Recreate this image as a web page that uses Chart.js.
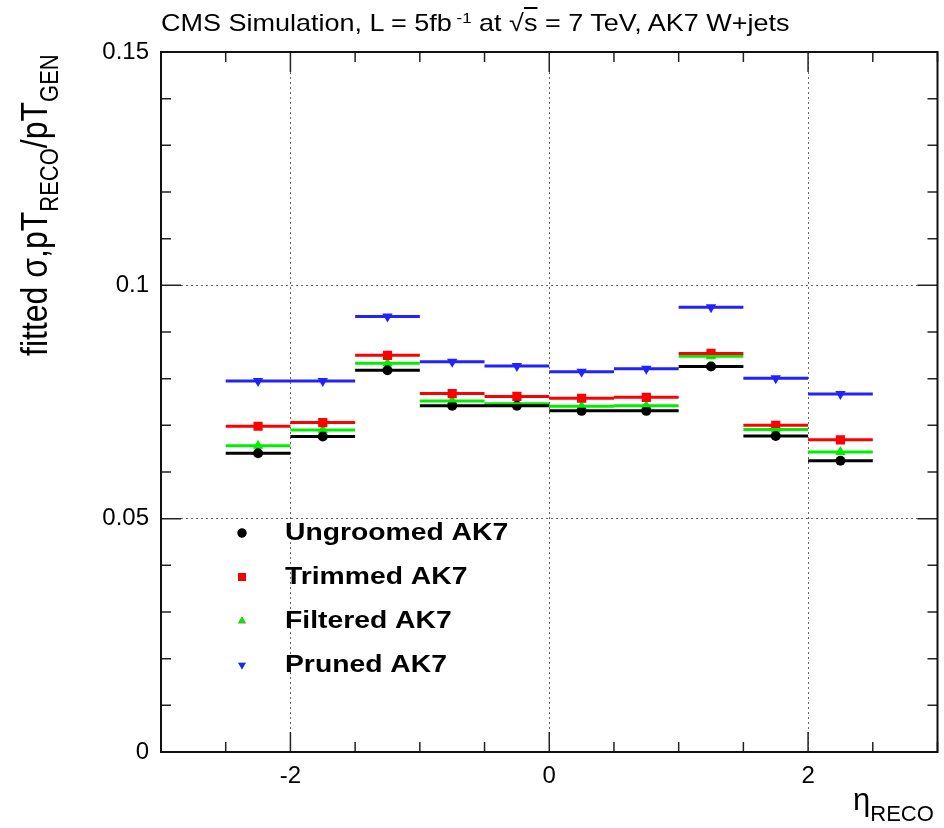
<!DOCTYPE html>
<html>
<head>
<meta charset="utf-8">
<script src="https://cdn.jsdelivr.net/npm/chart.js@4/dist/chart.umd.min.js"></script>
<style>
    body { margin: 0; background: #fff; }
    #wrap { position: relative; width: 944px; height: 828px; font-family: "Liberation Sans", Arial, sans-serif; }
    canvas { position: absolute; left: 0; top: 0; }
    .lbl { position: absolute; white-space: nowrap; color: #000; }
</style>
</head>
<body>
<div id="wrap">
    <canvas id="resChart" width="944" height="828"></canvas>
    <div class="lbl" id="title" style="left:161px; top:9px; font-size:24px; transform-origin:0 0; transform:scaleX(1.125);">
        CMS Simulation, L = 5fb<sup style="vertical-align:8px; font-size:15px; line-height:0;">&nbsp;-1</sup> at <span>&#8730;</span><span style="text-decoration:overline;">s</span> = 7 TeV, AK7 W+jets
    </div>
    <div class="lbl" id="ytitle" style="left:14px; top:356px; font-size:32px; transform-origin:0 0; transform:rotate(-90deg) scaleY(1.15);">
        fitted &sigma;,pT<sub style="font-size:22px; vertical-align:-9px; line-height:0;">RECO</sub>/pT<sub style="font-size:22px; vertical-align:-9px; line-height:0;">GEN</sub>
    </div>
    <div class="lbl" id="xtitle" style="left:853px; top:782px; font-size:31px;">
        &eta;<sub style="font-size:22px; vertical-align:-11px; line-height:0;">RECO</sub>
    </div>
</div>
<script>
// eta bin edges and fitted resolution per bin
const binEdges = [-2.5, -2, -1.5, -1, -0.5, 0, 0.5, 1, 1.5, 2, 2.5];
const ungroomed = [0.0640, 0.0676, 0.0818, 0.0742, 0.0742, 0.0731, 0.0731, 0.0826, 0.0677, 0.0624];
const trimmed   = [0.0698, 0.0706, 0.0850, 0.0768, 0.0762, 0.0758, 0.0760, 0.0854, 0.0700, 0.0669];
const filtered  = [0.0656, 0.0690, 0.0833, 0.0752, 0.0746, 0.0741, 0.0742, 0.0848, 0.0691, 0.0643];
const pruned    = [0.0795, 0.0795, 0.0933, 0.0836, 0.0827, 0.0815, 0.0821, 0.0953, 0.0801, 0.0767];

const xLabels = [-2, 0, 2];
const yLabels = [0, 0.05, 0.1, 0.15];

const series = [
    { label: 'Ungroomed AK7', data: ungroomed, color: '#000000', style: 'circle', radius: 5, rot: 0 },
    { label: 'Trimmed AK7', data: trimmed, color: '#ff0000', style: 'rect', radius: 6.5, rot: 0 },
    { label: 'Filtered AK7', data: filtered, color: '#00ee00', style: 'triangle', radius: 6, rot: 0 },
    { label: 'Pruned AK7', data: pruned, color: '#2222ff', style: 'triangle', radius: 6, rot: 180 }
];

function binSegments(values) {
    const pts = [];
    values.forEach((v, i) => {
        pts.push({ x: binEdges[i], y: v });
        pts.push({ x: binEdges[i + 1], y: v });
        pts.push({ x: binEdges[i + 1], y: null });
    });
    return pts;
}

function binCenters(values) {
    return values.map((v, i) => ({ x: (binEdges[i] + binEdges[i + 1]) / 2, y: v }));
}

const datasets = [];
series.forEach(s => {
    datasets.push({
        label: s.label + ' bins',
        data: binSegments(s.data),
        showLine: true,
        spanGaps: false,
        borderColor: s.color,
        borderWidth: 3,
        pointRadius: 0,
        pointHoverRadius: 0
    });
});
series.forEach(s => {
    datasets.push({
        label: s.label,
        data: binCenters(s.data),
        showLine: false,
        pointStyle: s.style,
        pointRadius: s.radius,
        pointRotation: s.rot,
        backgroundColor: s.color,
        borderColor: s.color,
        borderWidth: 0
    });
});

function isMajorX(v) {
    return xLabels.some(l => Math.abs(l - v) < 1e-6);
}
function isMajorY(v) {
    return yLabels.some(l => Math.abs(l - v) < 1e-6);
}

// ROOT style frame with inward ticks on all four sides
const frameTicks = {
    id: 'frameTicks',
    afterDatasetsDraw(chart) {
        const ctx = chart.ctx;
        const a = chart.chartArea;
        const xs = chart.scales.x;
        const ys = chart.scales.y;
        ctx.save();
        ctx.strokeStyle = '#222';
        ctx.lineWidth = 1.5;
        ctx.beginPath();
        xs.ticks.forEach(t => {
            const px = xs.getPixelForValue(t.value);
            const len = isMajorX(t.value) ? 20 : 10;
            ctx.moveTo(px, a.bottom); ctx.lineTo(px, a.bottom - len);
            ctx.moveTo(px, a.top); ctx.lineTo(px, a.top + len);
        });
        ys.ticks.forEach(t => {
            const py = ys.getPixelForValue(t.value);
            const len = isMajorY(t.value) ? 20 : 10;
            ctx.moveTo(a.left, py); ctx.lineTo(a.left + len, py);
            ctx.moveTo(a.right, py); ctx.lineTo(a.right - len, py);
        });
        ctx.stroke();
        ctx.lineWidth = 2;
        ctx.strokeStyle = '#111';
        ctx.strokeRect(a.left, a.top, a.right - a.left, a.bottom - a.top);
        ctx.restore();
    }
};

// legend box inside the frame, lower left
const innerLegend = {
    id: 'innerLegend',
    afterDraw(chart) {
        const ctx = chart.ctx;
        const rows = [533, 577, 621, 665];
        ctx.save();
        ctx.font = 'bold 23px "Liberation Sans", Arial, sans-serif';
        ctx.textBaseline = 'middle';
        series.forEach((s, i) => {
            Chart.helpers.drawPoint(ctx, {
                pointStyle: s.style,
                radius: s.style === 'rect' ? 5.5 : 4.5,
                rotation: s.rot,
                borderWidth: 0
            }, 242, rows[i]);
            ctx.fillStyle = s.color;
            ctx.fill();
            ctx.save();
            ctx.translate(285, rows[i] + 1);
            ctx.scale(1.23, 1);
            ctx.fillStyle = '#000';
            ctx.fillText(s.label, 0, 0);
            ctx.restore();
        });
        ctx.restore();
    }
};

new Chart(document.getElementById('resChart'), {
    type: 'scatter',
    data: { datasets: datasets },
    options: {
        responsive: false,
        animation: false,
        layout: { padding: { top: 52, right: -3, left: 0, bottom: 0 } },
        plugins: {
            legend: { display: false },
            tooltip: { enabled: false }
        },
        scales: {
            x: {
                type: 'linear',
                min: -3,
                max: 3,
                afterFit: function(scale) {
                    scale.height = 76;
                    scale.paddingLeft = 0;
                    scale.paddingRight = 0;
                },
                afterBuildTicks: function(scale) {
                    const t = [];
                    for (let i = 0; i <= 12; i++) t.push({ value: -3 + i * 0.5 });
                    scale.ticks = t;
                },
                ticks: {
                    autoSkip: false,
                    maxRotation: 0,
                    padding: 10,
                    color: '#000',
                    font: { family: '"Liberation Sans", Arial, sans-serif', size: 24 },
                    callback: function(value) {
                        return isMajorX(value) ? String(Math.round(value)) : '';
                    }
                },
                grid: {
                    drawTicks: false,
                    lineWidth: 1,
                    color: function(c) {
                        return c.tick && isMajorX(c.tick.value) ? '#666' : 'rgba(0,0,0,0)';
                    }
                },
                border: { display: false, dash: [2, 3] }
            },
            y: {
                min: 0,
                max: 0.15,
                afterFit: function(scale) {
                    scale.width = 161;
                    scale.paddingTop = 0;
                    scale.paddingBottom = 0;
                },
                afterBuildTicks: function(scale) {
                    const t = [];
                    for (let i = 0; i <= 15; i++) t.push({ value: i / 100 });
                    scale.ticks = t;
                },
                ticks: {
                    autoSkip: false,
                    padding: 12,
                    color: '#000',
                    font: { family: '"Liberation Sans", Arial, sans-serif', size: 24 },
                    callback: function(value) {
                        return isMajorY(value) ? String(Math.round(value * 100) / 100) : '';
                    }
                },
                grid: {
                    drawTicks: false,
                    lineWidth: 1,
                    color: function(c) {
                        return c.tick && isMajorY(c.tick.value) ? '#666' : 'rgba(0,0,0,0)';
                    }
                },
                border: { display: false, dash: [2, 3] }
            }
        }
    },
    plugins: [frameTicks, innerLegend]
});
</script>
</body>
</html>
